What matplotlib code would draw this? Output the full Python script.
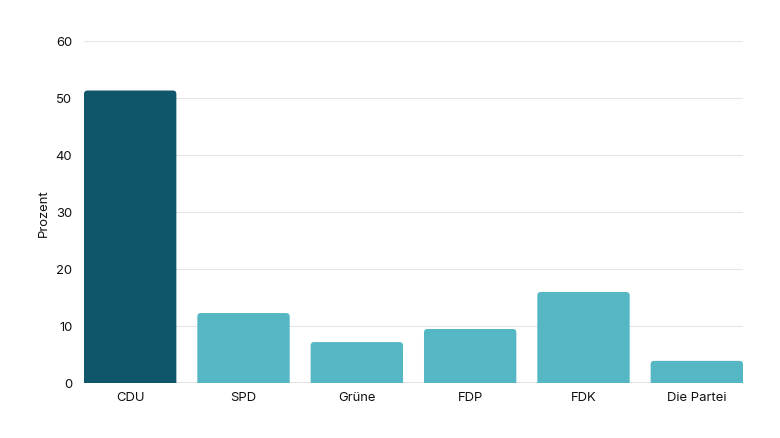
import matplotlib
matplotlib.use("Agg")
import matplotlib.pyplot as plt
from matplotlib.patches import FancyBboxPatch

categories = ["CDU", "SPD", "Grüne", "FDP", "FDK", "Die Partei"]
values = [51.3, 12.2, 7.1, 9.4, 15.9, 3.8]
yticks = [0, 10, 20, 30, 40, 50, 60]

plt.rcParams['font.family'] = ['Inter', 'DejaVu Sans']
W, H = 780, 439
fig = plt.figure(figsize=(W/100, H/100), dpi=100)
ax = fig.add_axes([84/W, 1-383.5/H, (743-84)/W, (383.5-42)/H])

colors = ["#10566b"] + ["#54b7c3"] * (len(categories) - 1)
bw = 0.815
x = list(range(len(categories)))
ax.set_xlim(-bw/2, len(categories) - 1 + bw/2)
ax.set_ylim(0, 60)

px_x = (743-84) / (len(categories) - 1 + bw)
px_y = (383.5-42) / 60
r_px = 3.5
rs = r_px / px_x
aspect = (r_px / px_y) / rs

for xi, v, c in zip(x, values, colors):
    p = FancyBboxPatch((xi - bw/2, -2), bw, v + 2,
                       boxstyle=f"round,pad=0,rounding_size={rs}",
                       mutation_aspect=aspect, facecolor=c, edgecolor='none',
                       zorder=3, clip_on=True)
    ax.add_patch(p)

fs = 9.4
tc = '#111111'
ax.set_yticks(yticks)
ax.set_xticks(x)
ax.set_xticklabels(categories)
ax.tick_params(axis='both', length=0, labelsize=fs, colors=tc)
ax.tick_params(axis='y', pad=8.5)
ax.tick_params(axis='x', pad=6)
ax.grid(axis='y', color='#e6e6e6', linewidth=0.8, zorder=0)
for s in ax.spines.values():
    s.set_visible(False)
ax.axhline(0, color='#dddddd', linewidth=1.2, zorder=2)
ax.set_ylabel("Prozent", fontsize=fs, color=tc, labelpad=4)

fig.savefig("out.png", dpi=100)
